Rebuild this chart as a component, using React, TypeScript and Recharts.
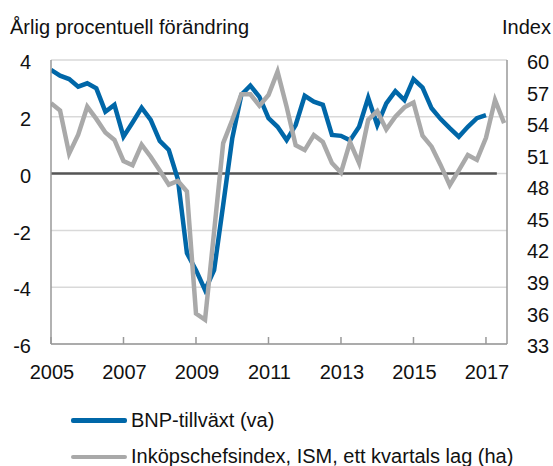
import React from "react";
import { LineChart, Line, XAxis, YAxis, CartesianGrid, ReferenceLine } from "recharts";

// quarterly, first quarter 2005 onwards
const START_YEAR = 2005;

// BNP-tillväxt, årlig procentuell förändring (vänster axel)
const bnpGrowth = [
  3.65, 3.45, 3.33, 3.06,
  3.18, 3.0, 2.18, 2.42,
  1.3, 1.8, 2.32, 1.89,
  1.15, 0.83, -0.2, -2.8,
  -3.4, -4.1, -3.4, -1.1,
  1.24, 2.77, 3.1, 2.7,
  1.95, 1.65, 1.18, 1.71,
  2.74, 2.53, 2.42, 1.36,
  1.33, 1.17, 1.65, 2.67,
  1.71, 2.47, 2.9, 2.59,
  3.33, 3.03, 2.3, 1.92,
  1.6, 1.3, 1.65, 1.95,
  2.06,
];

// ISM inköpschefsindex, ett kvartals lag (höger axel)
const ismLagged = [
  55.9, 55.2, 51.1, 52.9,
  55.56, 54.4, 53.1, 52.4,
  50.4, 50.0, 51.95, 50.8,
  49.5, 48.15, 48.5, 47.5,
  35.9, 35.3, 43.7, 52.1,
  54.3, 56.74, 56.74, 55.66,
  56.67, 58.9, 55.56, 51.9,
  51.44, 52.87, 52.2, 50.2,
  49.3, 52.2, 50.2, 54.3,
  55.15, 53.4, 54.6, 55.5,
  55.95, 52.8, 51.76, 50.0,
  48.1, 49.5, 50.97, 50.5,
  52.6, 56.2, 54.0,
];

const yearTicks = [2005, 2007, 2009, 2011, 2013, 2015, 2017];
const leftTicks = [-6, -4, -2, 0, 2, 4];
const rightTicks = [33, 36, 39, 42, 45, 48, 51, 54, 57, 60];

const BLUE = "#0067A8";
const GREY = "#A9A9A9";
const FONT = "'Liberation Sans', Arial, Helvetica, sans-serif";

const data = ismLagged.map((ism, i) => ({
  t: START_YEAR + i / 4,
  bnp: i < bnpGrowth.length ? bnpGrowth[i] : null,
  ism,
}));

function YearTick(props: any) {
  const { x, y, payload } = props;
  return (
    <g>
      <line x1={x} x2={x} y1={y - 7} y2={y} stroke="#999" strokeWidth={1.5} />
      <text x={x + 1} y={y + 35} textAnchor="middle" fontSize={20} fill="#111" fontFamily={FONT}>
        {payload.value}
      </text>
    </g>
  );
}

export default function App() {
  return (
    <div
      style={{
        position: "absolute",
        left: 0,
        top: 0,
        width: 553,
        height: 466,
        background: "#fff",
        fontFamily: FONT,
        color: "#111",
        overflow: "hidden",
      }}
    >
      <div style={{ position: "absolute", left: 10, top: 15, fontSize: 20, lineHeight: "24px" }}>
        Årlig procentuell förändring
      </div>
      <div style={{ position: "absolute", right: 2, top: 15, fontSize: 20, lineHeight: "24px" }}>Index</div>

      <div style={{ position: "absolute", left: 0, top: 0 }}>
        <LineChart width={553} height={466} data={data} margin={{ top: 60, right: 0, bottom: 82, left: 0 }}>
          <CartesianGrid yAxisId="left" horizontal vertical={false} stroke="#d9d9d9" strokeWidth={1.5} />
          <XAxis
            dataKey="t"
            type="number"
            domain={[2005, 2017.58]}
            ticks={yearTicks}
            allowDataOverflow
            height={40}
            tickSize={0}
            tickMargin={0}
            tickLine={false}
            axisLine={{ stroke: "#999", strokeWidth: 1.5 }}
            tick={<YearTick />}
            interval={0}
          />
          <YAxis
            yAxisId="left"
            domain={[-6, 4]}
            ticks={leftTicks}
            width={51}
            tickLine={false}
            tickSize={0}
            tickMargin={20}
            axisLine={{ stroke: "#999", strokeWidth: 1.5 }}
            tick={{ fontSize: 20, fill: "#111", fontFamily: FONT, dy: 2 }}
            interval={0}
          />
          <YAxis
            yAxisId="right"
            orientation="right"
            domain={[33, 60]}
            ticks={rightTicks}
            width={46}
            tickLine={false}
            tickSize={0}
            tickMargin={20}
            axisLine={{ stroke: "#999", strokeWidth: 1.5 }}
            tick={{ fontSize: 20, fill: "#111", fontFamily: FONT, dy: 2 }}
            interval={0}
          />
          <ReferenceLine
            yAxisId="left"
            segment={[
              { x: 2005, y: 0 },
              { x: 2017.3, y: 0 },
            ]}
            stroke="#555"
            strokeWidth={2.5}
          />
          <Line
            yAxisId="left"
            dataKey="bnp"
            stroke={BLUE}
            strokeWidth={4.5}
            dot={false}
            type="linear"
            isAnimationActive={false}
          />
          <Line
            yAxisId="right"
            dataKey="ism"
            stroke={GREY}
            strokeWidth={4.5}
            dot={false}
            type="linear"
            isAnimationActive={false}
          />
        </LineChart>
      </div>

      <div style={{ position: "absolute", left: 71, top: 418, width: 56, height: 4.5, borderRadius: 2, background: BLUE }} />
      <div style={{ position: "absolute", left: 131, top: 408, fontSize: 20, lineHeight: "24px" }}>BNP-tillväxt (va)</div>
      <div style={{ position: "absolute", left: 71, top: 454.5, width: 56, height: 4.5, borderRadius: 2, background: GREY }} />
      <div style={{ position: "absolute", left: 131, top: 444, fontSize: 20, lineHeight: "24px" }}>
        Inköpschefsindex, ISM, ett kvartals lag (ha)
      </div>
    </div>
  );
}
